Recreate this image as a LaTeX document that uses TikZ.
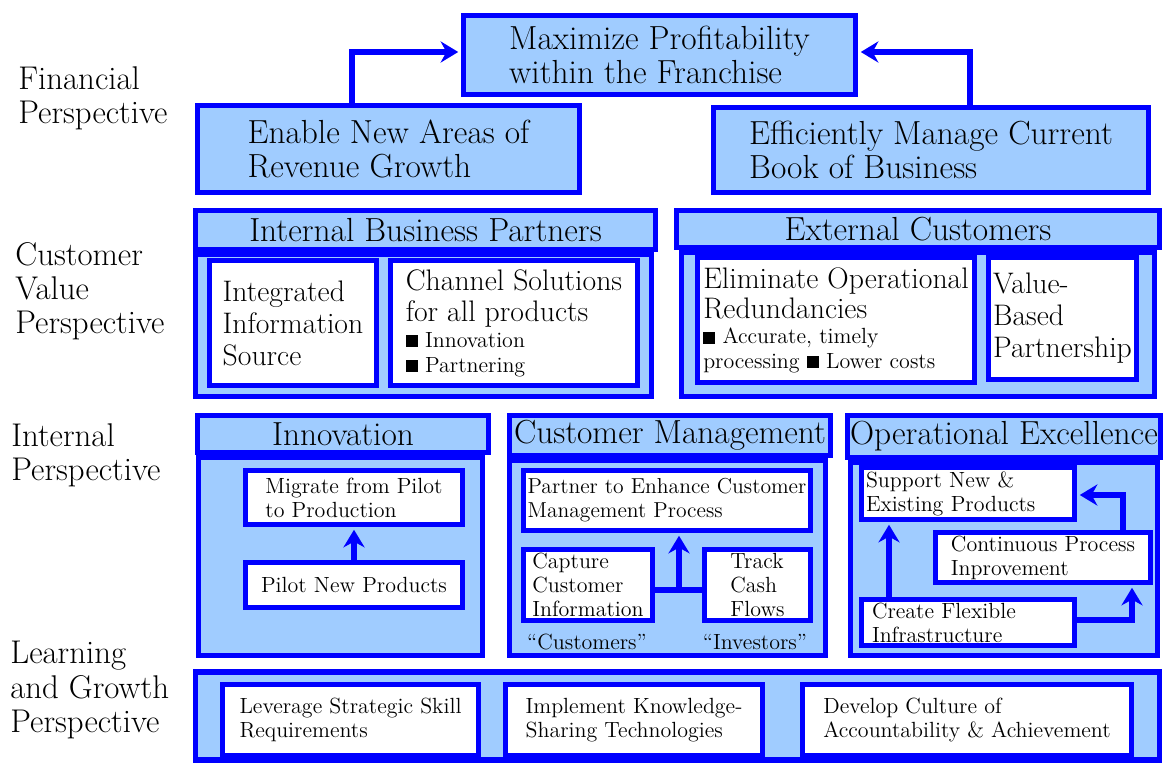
\documentclass[tikz,border=0pt]{standalone}
\usepackage{fontspec}
\usetikzlibrary{arrows.meta}
\definecolor{bscblue}{RGB}{0,0,255}
\definecolor{bscfill}{RGB}{160,204,255}
\newlength{\bscpx}\setlength{\bscpx}{0.02cm}
\newcommand{\bigtxt}{\fontsize{19}{19.4}\selectfont}
\newcommand{\midtxt}{\fontsize{16.9}{18.2}\selectfont}
\newcommand{\smtxt}{\fontsize{12.5}{13.7}\selectfont}
\newcommand{\sqbul}{\rule{0.55em}{0.55em}}
\tikzset{
  bluebox/.style={draw=bscblue, line width=3pt, fill=bscfill, inner sep=0pt},
  goal/.style={bluebox, align=left, font=\bigtxt},
  heading/.style={bluebox, font=\bigtxt},
  panel/.style={bluebox},
  cell/.style={draw=bscblue, line width=3pt, fill=white, inner sep=0pt, align=left, font=\smtxt},
  bigcell/.style={cell, font=\midtxt},
  persp/.style={anchor=west, align=left, inner sep=0pt, font=\fontsize{18.7}{19.4}\selectfont},
  link/.style={draw=bscblue, line width=3pt},
  flow/.style={link, shorten >=1.5pt, -{Stealth[length=10pt,width=12pt]}},
}

\begin{document}
\begin{tikzpicture}[x=0.02cm,y=-0.02cm]
			%%%%% START %%%%%
			\useasboundingbox (0,0) rectangle (1165,763);
			
			\node[persp] (finPersp) at (18,98) {Financial\\Perspective};
			\node[persp] (custPersp) at (15,291) {Customer\\Value\\Perspective};
			\node[persp] (intPersp) at (11,455) {Internal\\Perspective};
			\node[persp] (learnPersp) at (10,690) {Learning\\and Growth\\Perspective};
			
			% financial
			\node[goal, minimum width=392\bscpx, minimum height=79\bscpx] (maxProfit) at (659.5,55) {Maximize Profitability\\within the Franchise};
			\node[goal, minimum width=382\bscpx, minimum height=87\bscpx] (newRevenue) at (388.5,149) {Enable New Areas of\\Revenue Growth};
			\node[goal, minimum width=435\bscpx, minimum height=85\bscpx] (manageBook) at (931,150) {Efficiently Manage Current\\Book of Business};
			\coordinate (finL) at (352,52);
			\coordinate (finR) at (970,52);
			\draw[flow] (newRevenue.north -| finL) |- (maxProfit.west |- finL);
			\draw[flow] (manageBook.north -| finR) |- (maxProfit.east |- finR);
			
			% customer value
			\node[panel, minimum width=456\bscpx, minimum height=142\bscpx] (ibpPanel) at (423.5,325.5) {};
			\node[heading, minimum width=460\bscpx, minimum height=39\bscpx] (ibpHead) at (425.5,230) {Internal Business Partners};
			\node[bigcell, minimum width=167\bscpx, minimum height=125\bscpx] (infoSource) at (293,323) {Integrated\\Information\\Source};
			\node[bigcell, minimum width=247\bscpx, minimum height=125\bscpx] (channelSol) at (514,323) {Channel Solutions\\for all products\\[-3.8pt]{\smtxt\sqbul\ Innovation}\\[-4pt]{\smtxt\sqbul\ Partnering}};
			
			\node[panel, minimum width=473\bscpx, minimum height=144\bscpx] (extPanel) at (918,324.5) {};
			\node[heading, minimum width=483\bscpx, minimum height=37\bscpx] (extHead) at (918,229) {External Customers};
			\node[bigcell, minimum width=277\bscpx, minimum height=125\bscpx] (elimRedund) at (836,320) {Eliminate Operational\\[-1pt]Redundancies\\[-3.8pt]{\smtxt\sqbul\ Accurate, timely}\\[-4.4pt]{\smtxt processing \sqbul\ Lower costs}};
			\node[bigcell, minimum width=148\bscpx, minimum height=122\bscpx] (valuePartner) at (1062.5,318.5) {Value-\\Based\\Partnership};
			
			% internal
			\node[panel, minimum width=284\bscpx, minimum height=198\bscpx] (innovPanel) at (340.5,556.5) {};
			\node[heading, minimum width=291\bscpx, minimum height=37\bscpx] (innovHead) at (343,434) {Innovation};
			\node[cell, minimum width=217\bscpx, minimum height=54\bscpx] (migrate) at (354,497.5) {Migrate from Pilot\\to Production};
			\node[cell, minimum width=217\bscpx, minimum height=45\bscpx] (pilotNew) at (354,585) {Pilot New Products};
			\draw[flow] (pilotNew.north) -- (migrate.south);
			
			\node[panel, minimum width=316\bscpx, minimum height=195\bscpx] (custPanel) at (667.5,558) {};
			\node[heading, minimum width=321\bscpx, minimum height=40\bscpx] (custHead) at (670,435.5) {Customer Management};
			\node[cell, minimum width=287\bscpx, minimum height=60\bscpx, font=\fontsize{12.3}{13.7}\selectfont] (enhanceCM) at (667,500.5) {Partner to Enhance Customer\\Management Process};
			\node[cell, minimum width=129\bscpx, minimum height=71\bscpx] (captureInfo) at (588,585) {Capture\\Customer\\Information};
			\node[cell, minimum width=106\bscpx, minimum height=71\bscpx] (trackCash) at (757.5,585) {Track\\Cash\\Flows};
			\node[font=\smtxt, inner sep=0pt] (custTag) at (587,642) {“Customers”};
			\node[font=\smtxt, inner sep=0pt] (invTag) at (755,642) {“Investors”};
			\coordinate (cmJoin) at (679,590);
			\draw[link] (captureInfo.east |- cmJoin) -- (trackCash.west |- cmJoin);
			\draw[flow] (cmJoin) -- (cmJoin |- enhanceCM.south);
			
			\node[panel, minimum width=307\bscpx, minimum height=193\bscpx] (opPanel) at (1004,559) {};
			\node[heading, minimum width=313\bscpx, minimum height=42\bscpx] (opHead) at (1004,436.5) {Operational Excellence};
			\node[cell, minimum width=213\bscpx, minimum height=52\bscpx, text width=204\bscpx] (supportProd) at (968,493.5) {Support New \&\\Existing Products};
			\node[cell, minimum width=215\bscpx, minimum height=50\bscpx] (contImprove) at (1043,557.5) {Continuous Process\\Inprovement};
			\node[cell, minimum width=213\bscpx, minimum height=46\bscpx, text width=192\bscpx] (flexInfra) at (968,622.5) {Create Flexible\\Infrastructure};
			\coordinate (opUp) at (889,0);
			\coordinate (opRight) at (1132,620);
			\coordinate (opBack) at (1123,495);
			\draw[flow] (flexInfra.north -| opUp) -- (supportProd.south -| opUp);
			\draw[flow] (flexInfra.east |- opRight) -| (contImprove.south -| opRight);
			\draw[flow] (contImprove.north -| opBack) |- (supportProd.east |- opBack);
			
			% learning and growth
			\node[panel, minimum width=964\bscpx, minimum height=88\bscpx] (learnPanel) at (677.5,716) {};
			\node[cell, minimum width=256\bscpx, minimum height=71\bscpx] (skillReq) at (350.5,720) {Leverage Strategic Skill\\Requirements};
			\node[cell, minimum width=257\bscpx, minimum height=71\bscpx] (knowShare) at (634,720) {Implement Knowledge-\\Sharing Technologies};
			\node[cell, minimum width=329\bscpx, minimum height=71\bscpx] (accountCult) at (967,720) {Develop Culture of\\Accountability \& Achievement};
			
			%%%%% END %%%%%
\end{tikzpicture}
\end{document}
